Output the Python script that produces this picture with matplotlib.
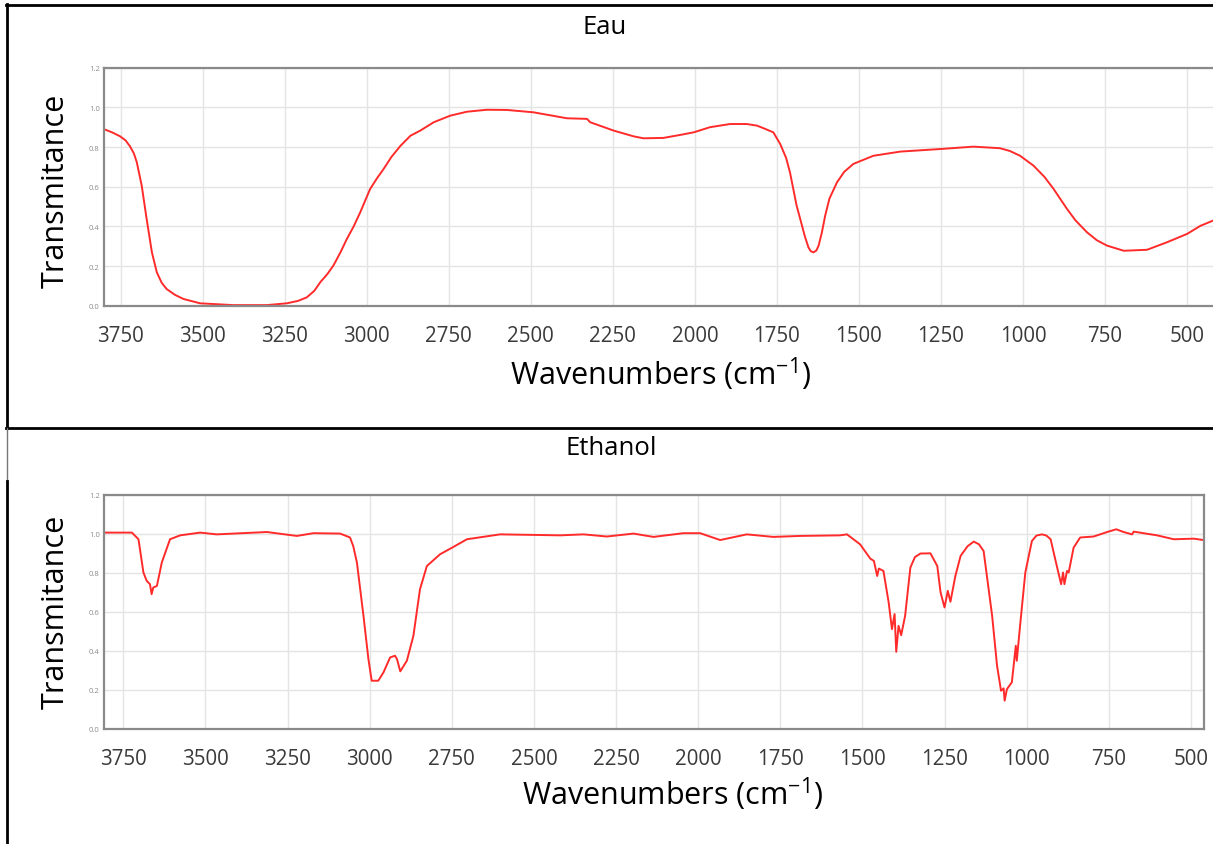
"""Two FTIR transmittance spectra (water and ethanol) laid out in a table-like figure."""
import matplotlib.pyplot as plt
from matplotlib.lines import Line2D

plt.rcParams['font.family'] = ['Open Sans', 'DejaVu Sans']

W, H = 1213, 845

# Eau: wavenumber (cm-1) -> transmittance
EAU_X = [3798, 3775, 3752, 3735, 3722, 3710, 3701, 3686, 3671, 3655, 3640, 3625, 3610, 3585,
         3559, 3508, 3407, 3305, 3244, 3210, 3183, 3160, 3142, 3120, 3102, 3080, 3061, 3040,
         3020, 3005, 2990, 2970, 2949, 2925, 2898, 2867, 2837, 2796, 2746, 2695, 2634, 2573,
         2492, 2390, 2329, 2319, 2248, 2187, 2157, 2096, 2045, 2004, 1954, 1893, 1842, 1811,
         1791, 1761, 1740, 1722, 1710, 1690, 1679, 1665, 1654, 1647, 1639, 1630, 1623, 1613,
         1603, 1590, 1567, 1545, 1517, 1456, 1374, 1252, 1151, 1070, 1040, 1009, 968, 935,
         907, 866, 840, 805, 775, 744, 693, 622, 561, 500, 459, 421]
EAU_Y = [0.888, 0.873, 0.854, 0.833, 0.804, 0.768, 0.723, 0.605, 0.437, 0.269, 0.168, 0.115, 0.084, 0.055,
         0.034, 0.012, 0.003, 0.003, 0.012, 0.024, 0.042, 0.075, 0.118, 0.160, 0.202, 0.270, 0.336, 0.400,
         0.471, 0.530, 0.588, 0.640, 0.689, 0.750, 0.805, 0.857, 0.883, 0.925, 0.958, 0.978, 0.988, 0.987,
         0.975, 0.945, 0.942, 0.925, 0.883, 0.854, 0.844, 0.846, 0.861, 0.874, 0.900, 0.916, 0.916, 0.908,
         0.895, 0.874, 0.815, 0.745, 0.670, 0.504, 0.437, 0.350, 0.294, 0.275, 0.269, 0.278, 0.303, 0.370,
         0.454, 0.540, 0.622, 0.675, 0.715, 0.756, 0.777, 0.790, 0.802, 0.794, 0.780, 0.756, 0.706, 0.650,
         0.589, 0.488, 0.430, 0.370, 0.330, 0.303, 0.277, 0.282, 0.320, 0.362, 0.403, 0.429]

# Ethanol
ETH_X = [3806, 3724, 3704, 3689, 3679, 3669, 3664, 3659, 3648, 3633, 3608, 3577,
         3516, 3466, 3313, 3222, 3171, 3090, 3060, 3050, 3039, 3019, 3004, 2994, 2974,
         2958, 2938, 2923, 2917, 2907, 2887, 2867, 2847, 2826, 2786, 2745, 2704,
         2603, 2420, 2349, 2278, 2197, 2136, 2045, 1994, 1933, 1852, 1771, 1690,
         1568, 1547, 1507, 1476, 1465, 1455, 1450, 1436, 1420, 1410, 1402, 1397,
         1390, 1382, 1370, 1354, 1340, 1323, 1293, 1272, 1262, 1250, 1240, 1232, 1217,
         1201, 1180, 1161, 1145, 1131, 1105, 1090, 1078, 1070, 1067, 1060, 1045, 1033, 1030,
         1020, 1004, 984, 970, 953, 940, 927, 907, 895, 889, 885, 877, 872, 857,
         837, 796, 755, 727, 705, 679, 674, 603, 552, 491, 461]
ETH_Y = [1.005, 1.005, 0.971, 0.801, 0.758, 0.741, 0.690, 0.724, 0.732, 0.852, 0.971, 0.991,
         1.005, 0.996, 1.008, 0.988, 1.002, 1.000, 0.980, 0.935, 0.852, 0.579, 0.358, 0.247, 0.247,
         0.290, 0.366, 0.375, 0.358, 0.295, 0.349, 0.477, 0.715, 0.834, 0.894, 0.932, 0.971,
         0.996, 0.991, 0.996, 0.985, 1.000, 0.983, 1.002, 1.002, 0.967, 0.996, 0.983, 0.988,
         0.991, 0.996, 0.945, 0.872, 0.860, 0.783, 0.821, 0.809, 0.647, 0.511, 0.588, 0.395,
         0.528, 0.480, 0.579, 0.826, 0.880, 0.898, 0.899, 0.834, 0.699, 0.622, 0.707, 0.651, 0.783,
         0.886, 0.935, 0.959, 0.945, 0.911, 0.579, 0.323, 0.196, 0.208, 0.145, 0.204, 0.239, 0.426, 0.349,
         0.528, 0.801, 0.962, 0.990, 0.996, 0.990, 0.971, 0.826, 0.741, 0.801, 0.741, 0.809, 0.801, 0.928,
         0.980, 0.985, 1.008, 1.022, 1.008, 0.996, 1.010, 0.991, 0.971, 0.974, 0.967]

X_TICKS = [3750, 3500, 3250, 3000, 2750, 2500, 2250, 2000, 1750, 1500, 1250, 1000, 750, 500]
Y_TICKS = [0.0, 0.2, 0.4, 0.6, 0.8, 1.0, 1.2]

RED = '#ff2b2b'
SPINE = '#8a8a8a'


def px_axes(fig, left, top, right, bottom):
    return fig.add_axes([left / W, 1 - bottom / H, (right - left) / W, (bottom - top) / H])


def style(ax, xlim, right_spine=True):
    ax.set_xlim(*xlim)
    ax.set_ylim(0, 1.2)
    ax.set_xticks(X_TICKS)
    ax.set_yticks(Y_TICKS)
    ax.set_yticklabels([f"{v:.1f}" for v in Y_TICKS])
    ax.tick_params(axis='x', length=0, pad=14, labelsize=14.8, labelcolor='#3a3a3a')
    ax.tick_params(axis='y', length=0, pad=3, labelsize=5.5, labelcolor='#8c8c8c')
    ax.grid(True, color='#e4e4e4', lw=1.0)
    ax.set_axisbelow(True)
    for name, sp in ax.spines.items():
        sp.set_color(SPINE)
        sp.set_linewidth(1.6)
    ax.spines['right'].set_visible(right_spine)


fig = plt.figure(figsize=(W / 100, H / 100), dpi=100)

ax1 = px_axes(fig, 104, 68.7, 1213, 306.7)
ax1.plot(EAU_X, EAU_Y, color=RED, lw=1.4)
style(ax1, (3801, 421), right_spine=False)

ax2 = px_axes(fig, 104, 495.5, 1204, 730)
ax2.plot(ETH_X, ETH_Y, color=RED, lw=1.4)
style(ax2, (3809, 460))

# axis titles, placed as in the picture
fig.text(56 / W, 1 - 191 / H, "Transmitance", rotation=90, ha='center', va='center', fontsize=22)
fig.text(56 / W, 1 - 612 / H, "Transmitance", rotation=90, ha='center', va='center', fontsize=22)
xlab = r"Wavenumbers (cm$^{\mathregular{-1}}$)"
fig.text(661 / W, 1 - 374 / H, xlab, ha='center', va='center', fontsize=22)
fig.text(673 / W, 1 - 794 / H, xlab, ha='center', va='center', fontsize=22)

# cell captions
fig.text(605 / W, 1 - 28 / H, "Eau", ha='center', va='center', fontsize=18.5)
fig.text(611 / W, 1 - 449 / H, "Ethanol", ha='center', va='center', fontsize=18.5)


# table borders
def hline(y, x0, x1, lw=2.0, color='black'):
    fig.add_artist(Line2D([x0 / W, x1 / W], [1 - y / H, 1 - y / H], color=color, lw=lw))


def vline(x, y0, y1, lw=2.0, color='black'):
    fig.add_artist(Line2D([x / W, x / W], [1 - y0 / H, 1 - y1 / H], color=color, lw=lw))


hline(6, 6, W)
hline(429, 6, W)
vline(7, 5, 429)
vline(7, 429, 482, lw=1.0, color='#777777')
vline(7, 482, H)

fig.savefig("out.png", dpi=100)
